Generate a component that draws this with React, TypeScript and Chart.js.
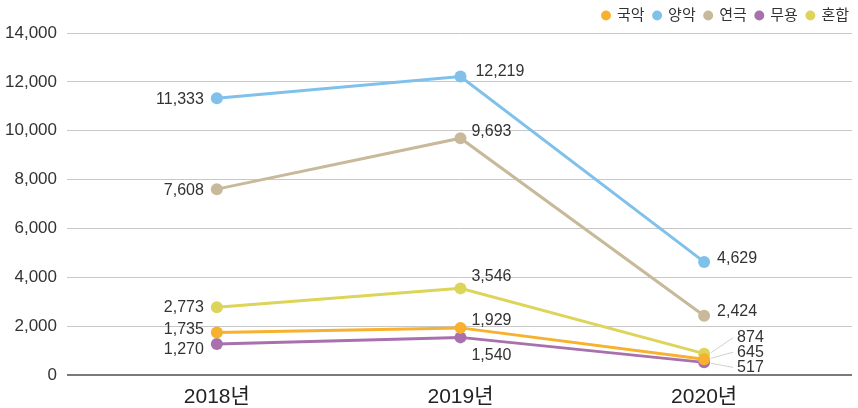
import React, { useEffect, useRef } from "react";
import { Chart, registerables } from "chart.js";

Chart.register(...registerables);

const categories = ["2018년", "2019년", "2020년"];
const seriesNames = ["국악", "양악", "연극", "무용", "혼합"];
const gugak = [1735, 1929, 645];
const yangak = [11333, 12219, 4629];
const yeongeuk = [7608, 9693, 2424];
const muyong = [1270, 1540, 517];
const honhap = [2773, 3546, 874];
const yTicks = [0, 2000, 4000, 6000, 8000, 10000, 12000, 14000];

const colors = ["#F7B12F", "#7FC1EA", "#C8B99B", "#A970AE", "#DDD45A"];

// label placement (style only): [dx, dy, align, leader]
type Pos = [number, number, CanvasTextAlign, boolean?];
const labelPos: Pos[][] = [
  [[-13, -3, "right"], [11, -7, "left"], [33, -7, "left", true]],
  [[-13, 1, "right"], [15, -5, "left"], [13, -3, "left"]],
  [[-13, 1, "right"], [11, -7, "left"], [13, -4, "left"]],
  [[-13, 6, "right"], [11, 18, "left"], [33, 5, "left", true]],
  [[-13, 0, "right"], [11, -12, "left"], [33, -16, "left", true]],
];

const FONT = '"Liberation Sans", Arial, "Noto Sans CJK KR", sans-serif';

const valueLabels = {
  id: "valueLabels",
  afterDatasetsDraw(chart: any) {
    const ctx = chart.ctx;
    ctx.save();
    ctx.font = `16px ${FONT}`;
    ctx.fillStyle = "#333";
    ctx.textBaseline = "middle";
    chart.data.datasets.forEach((ds: any, i: number) => {
      const meta = chart.getDatasetMeta(i);
      meta.data.forEach((pt: any, j: number) => {
        const [dx, dy, align, leader] = labelPos[i][j];
        const v = ds.data[j].y as number;
        const txt = v.toLocaleString("en-US");
        const lx = pt.x + dx;
        const ly = pt.y + dy;
        if (leader) {
          ctx.strokeStyle = "#c4c4c4";
          ctx.lineWidth = 0.8;
          ctx.beginPath();
          ctx.moveTo(pt.x + 7, pt.y + (dy > 0 ? 1 : -1));
          ctx.lineTo(lx - 4, ly);
          ctx.stroke();
        }
        ctx.textAlign = align;
        ctx.fillText(txt, lx, ly);
      });
    });
    ctx.restore();
  },
};

const seriesValues = [gugak, yangak, yeongeuk, muyong, honhap];

export default function App() {
  const ref = useRef<HTMLCanvasElement>(null);
  useEffect(() => {
    document.body.style.margin = "0";
    const chart = new Chart(ref.current!, {
      type: "line",
      data: {
        datasets: seriesNames.map((name, i) => ({
          label: name,
          data: seriesValues[i].map((v, j) => ({ x: j, y: v })),
          borderColor: colors[i],
          backgroundColor: colors[i],
          pointBackgroundColor: colors[i],
          pointBorderWidth: 0,
          pointRadius: 6,
          borderWidth: 3,
          tension: 0,
        })),
      },
      options: {
        responsive: false,
        devicePixelRatio: 1,
        animation: false,
        layout: { padding: { left: 0, right: 0, top: -1, bottom: 0 } },
        plugins: {
          tooltip: { enabled: false },
          legend: {
            position: "top",
            align: "end",
            labels: {
              usePointStyle: true,
              pointStyle: "circle",
              boxWidth: 7,
              boxHeight: 7,
              padding: 9,
              color: "#333",
              font: { size: 15, family: FONT },
              generateLabels(chart: any) {
                const items = Chart.defaults.plugins.legend.labels.generateLabels(chart);
                return items.map((it: any) => ({ ...it, lineWidth: 0, strokeStyle: it.fillStyle }));
              },
            },
          },
        },
        scales: {
          x: {
            type: "linear",
            min: -0.615,
            max: 2.607,
            afterBuildTicks(scale: any) {
              scale.ticks = categories.map((_, i) => ({ value: i }));
            },
            afterFit(scale: any) {
              scale.height = 33;
            },
            ticks: {
              callback: (v: any) => categories[v as number] ?? "",
              color: "#222",
              font: { size: 21, family: FONT },
              padding: 2,
              maxRotation: 0,
            },
            grid: { display: false },
            border: { display: false },
          },
          y: {
            min: 0,
            max: 14000,
            afterBuildTicks(scale: any) {
              scale.ticks = yTicks.map((v) => ({ value: v }));
            },
            afterFit(scale: any) {
              scale.width = 67;
            },
            ticks: {
              callback: (v: any) => Number(v).toLocaleString("en-US"),
              color: "#333",
              font: { size: 17, family: FONT },
              padding: 10,
            },
            grid: {
              drawTicks: false,
              color: (c: any) => (c.tick && c.tick.value === 0 ? "#7a7a7a" : "#c8c8c8"),
              lineWidth: (c: any) => (c.tick && c.tick.value === 0 ? 2 : 1),
            },
            border: { display: false },
          },
        },
      },
      plugins: [valueLabels],
    } as any);
    return () => chart.destroy();
  }, []);
  return (
    <div style={{ width: 858, height: 408, background: "#fff" }}>
      <canvas ref={ref} width={858} height={408} />
    </div>
  );
}
